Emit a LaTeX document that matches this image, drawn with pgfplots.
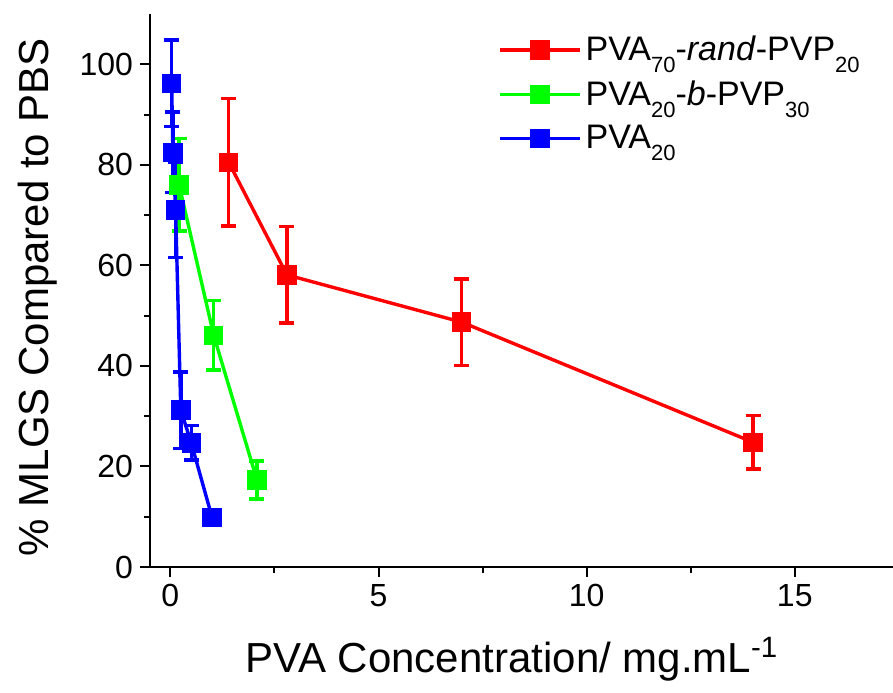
\documentclass[border=0pt]{standalone}
\usepackage{pgfplots}
\pgfplotsset{compat=1.18}
\usepackage{fontspec}
\setmainfont{Liberation Sans}
\newcommand{\sub}[1]{\raisebox{-6pt}{\fontsize{11}{11}\selectfont #1}}
\begin{document}
\begin{tikzpicture}
\begin{axis}[
  name=ax,
  scale only axis,
  width=371.5pt, height=276.5pt,
  xmin=-0.49, xmax=17.36,
  ymin=0, ymax=110,
  axis lines=left,
  axis line style={-, line width=1pt},
  xtick={0,5,10,15}, minor xtick={2.5,7.5,12.5},
  ytick={0,20,...,100}, minor ytick={10,30,...,90},
  tick align=outside,
  tick style={black, line width=1pt},
  major tick length=5pt, minor tick length=3pt,
  tick label style={font=\fontsize{16}{16}\selectfont},
  /pgf/number format/assume math mode=true,
  xlabel={PVA Concentration/ mg.mL\textsuperscript{-1}},
  ylabel={\% MLGS Compared to PBS},
  label style={font=\fontsize{21}{21}\selectfont},
  xlabel style={at={(axis description cs:0.487,0)}, anchor=center, yshift=-46pt},
  ylabel style={at={(axis description cs:-0.151,0.488)}, anchor=center},
  legend style={draw=none, fill=none, at={(0.46,0.975)}, anchor=north west,
    font=\fontsize{17}{17}\selectfont, row sep=4.5pt},
  legend cell align=left,
  legend image code/.code={\draw[mark repeat=2, mark phase=2]
    plot coordinates {(0pt,0pt) (20pt,0pt) (40pt,0pt)};},
  every axis plot/.append style={line width=1.7pt, mark=square*, mark size=4pt},
  error bars/y dir=both, error bars/y explicit,
  error bars/error bar style={line width=1.7pt},
  error bars/error mark options={rotate=90, mark size=3.75pt, line width=1.7pt},
]
\addplot[red] coordinates {
  (1.4,80.5) +- (0,12.7)
  (2.8,58.1) +- (0,9.6)
  (7,48.7)   +- (0,8.6)
  (14,24.8)  +- (0,5.3)
};
\addplot[green] coordinates {
  (0.21,76)   +- (0,9.2)
  (1.04,46.1) +- (0,6.9)
  (2.08,17.3) +- (0,3.8)
};
\addplot[blue] coordinates {
  (0.03,96.2)  +- (0,8.6)
  (0.06,82.5)  +- (0,8)
  (0.125,71)   +- (0,9.4)
  (0.25,31.2)  +- (0,7.6)
  (0.5,24.7)   +- (0,3.4)
  (1,9.9)      +- (0,0.5)
};
\legend{PVA\sub{70}-\textit{rand}-PVP\sub{20}, PVA\sub{20}-\textit{b}-PVP\sub{30}, PVA\sub{20}}
\end{axis}
\draw[line width=1pt] ([xshift=-5pt]ax.south west) -- (ax.south west);
\pgfresetboundingbox
\path ([xshift=-75pt,yshift=-63pt]ax.south west) rectangle ([yshift=7pt]ax.north east);
\end{tikzpicture}
\end{document}
